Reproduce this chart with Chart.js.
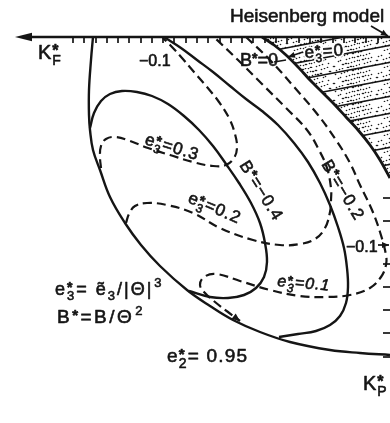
<!DOCTYPE html>
<html>
<head>
<meta charset="utf-8">
<script src="https://cdn.jsdelivr.net/npm/chart.js@4/dist/chart.umd.min.js"></script>
<style>
  html, body { margin: 0; background: #fff; }
  canvas { display: block; }
</style>
</head>
<body>
<canvas id="phase" width="390" height="423"></canvas>
<script>
const INK = '#151515';

// figure units: x to the right, y downward; K_F* axis along the top, K_P* down the right edge
const ORIGIN_X = 389, ORIGIN_Y = 37, ARROW_TIP_X = 15;

const KF_TICKS = [73, 84, 96, 107, 118, 129, 141, 152, 163, 174, 186, 197, 208, 220, 231, 242, 253, 265, 276, 287, 299, 310, 321, 333, 344, 355, 366, 378];
const KP_TICKS = [198, 221, 264, 287, 310, 333, 357];

// e2* = 0.95 outer boundary
const OUTER_X = [93, 91, 89, 89, 90, 93, 100, 110, 125, 141, 160, 187, 210, 233, 260, 290, 330, 360, 390];
const OUTER_Y = [37, 60, 90, 115, 130, 150, 170, 197, 223, 245, 266, 290, 306, 320, 332, 342, 350, 353, 355];

// B* = -0.4
const B04_X = [90, 94, 101, 110, 122, 137, 152, 168, 184, 199, 213, 226, 239, 251, 260, 265, 267, 264, 256, 244, 228, 210, 189];
const B04_Y = [128, 113, 101, 94, 91, 92, 96, 104, 116, 130, 146, 164, 183, 203, 223, 243, 262, 277, 288, 295, 298, 297, 291];

// B* = -0.2
const B02_X = [164, 181, 197, 213, 230, 246, 262, 278, 294, 308, 320, 330, 338, 344, 347, 348, 346, 340, 330, 316, 298, 279];
const B02_Y = [37, 48, 60, 72, 86, 99, 111, 125, 143, 162, 183, 205, 227, 248, 268, 287, 303, 316, 325, 331, 334, 337];

// B* = 0 / e3* = 0 edge of the hatched region
const EDGE_X = [262, 274, 286, 298, 310, 322, 334, 346, 358, 370, 380, 390];
const EDGE_Y = [37, 45, 55, 67, 80, 92, 104, 117, 130, 145, 160, 178];

// e3* = 0.3
const E03_X = [101, 100, 101, 106, 116, 130, 148, 170, 193, 213, 226, 234, 237, 235, 229, 219, 207, 194, 182, 172, 163];
const E03_Y = [168, 157, 146, 139, 137, 141, 148, 155, 162, 166, 165, 158, 148, 134, 118, 102, 87, 72, 58, 47, 38];

// e3* = 0.2
const E02_X = [126, 129, 135, 147, 167, 193, 220, 253, 280, 300, 315, 325, 330, 331, 331, 327, 319, 307, 286, 262, 238, 214];
const E02_Y = [223, 214, 206, 203, 205, 213, 228, 240, 245, 244, 239, 228, 212, 200, 188, 168, 150, 130, 108, 84, 60, 37];

// e3* = 0.1
const E01_X = [246, 270, 295, 318, 336, 350, 360, 372, 380, 386, 386, 381, 370, 350, 325, 300, 270, 240, 216, 204, 200, 205, 215, 228, 240];
const E01_Y = [37, 60, 88, 115, 140, 163, 185, 210, 232, 255, 265, 277, 288, 295, 297, 296, 290, 281, 274, 277, 285, 293, 302, 312, 321];

const LABELS = [
  { at: [230, 22], size: 19, gap: 0, parts: ['Heisenberg model'] },
  { at: [38, 59], size: 20, parts: ['K', { sup: '*', sub: 'F' }] },
  { at: [139, 66], size: 16, gap: 0, parts: ['−0.1'] },
  { at: [240, 66], size: 18, gap: 0, parts: ['B', { sup: '*' }, '=0'] },
  { at: [305, 58], size: 17, rot: -4, halo: true, parts: ['e', { sup: '*', sub: '3' }, '=0'] },
  { at: [144, 144], size: 17, rot: 17, parts: ['e', { sup: '*', sub: '3' }, '=0.3'] },
  { at: [239, 165], size: 17, rot: 58, parts: ['B', { sup: '*' }, '=−0.4'] },
  { at: [187, 202], size: 17, rot: 23, parts: ['e', { sup: '*', sub: '3' }, '=0.2'] },
  { at: [321, 164], size: 17, rot: 59, parts: ['B', { sup: '*' }, '=−0.2'] },
  { at: [277, 286], size: 16, rot: 5, italic: true, parts: ['e', { sup: '*', sub: '3' }, '=0.1'] },
  { at: [346, 252], size: 16, gap: 0, parts: ['−0.1'] },
  { at: [55, 295], size: 18, gap: 2, parts: ['e', { sup: '*', sub: '3' }, '= ẽ', { sub: '3' }, '/|Θ|', { sup: '3' }] },
  { at: [57, 323], size: 19, gap: 2.5, parts: ['B', { sup: '*' }, '=B/Θ', { sup: '2' }] },
  { at: [167, 362], size: 19, gap: 1.2, parts: ['e', { sup: '*', sub: '2' }, '= 0.95'] },
  { at: [363, 390], size: 20, parts: ['K', { sup: '*', sub: 'P' }] },
];

// leader arrows [from, to, with head]
const POINTERS = [
  [[371, 26], [388, 36], true],
  [[303, 52], [288, 57], true],
  [[274, 62], [286, 60], false],
  [[378, 245], [389, 245], true],
];

function hatchPattern() {
  const w = 90, h = 17;
  const c = document.createElement('canvas');
  c.width = w; c.height = h;
  const g = c.getContext('2d');
  g.fillStyle = '#fff';
  g.fillRect(0, 0, w, h);
  g.fillStyle = '#1e1e1e';
  // stipple
  for (let i = 0; i < 110; i++) {
    const dx = (i * 37 + (i % 11) * 5) % w, dy = (i * 53 + (i % 5)) % h;
    g.beginPath(); g.arc(dx + 0.5, dy + 0.5, 0.8, 0, Math.PI * 2); g.fill();
  }
  g.strokeStyle = INK;
  g.lineWidth = 1.6;
  for (const o of [-h, 0, h]) {
    g.beginPath(); g.moveTo(0, h + o); g.lineTo(w, o); g.stroke();
  }
  return document.createElement('canvas').getContext('2d').createPattern(c, 'repeat');
}

const curve = (xs, ys, dashed, extra = {}) => ({
  data: xs.map((v, i) => ({ x: v, y: ys[i] })),
  pointRadius: 0, borderColor: INK, borderWidth: dashed ? 2.2 : 2.4,
  borderDash: dashed ? [9, 5] : [], tension: 0.4, fill: false, order: 0, ...extra,
});

function seg(ctx, x1, y1, x2, y2) {
  ctx.beginPath(); ctx.moveTo(x1, y1); ctx.lineTo(x2, y2); ctx.stroke();
}
function head(ctx, x1, y1, x2, y2, len, half) {
  const a = Math.atan2(y2 - y1, x2 - x1);
  ctx.beginPath();
  ctx.moveTo(x2, y2);
  ctx.lineTo(x2 - len * Math.cos(a) + half * Math.sin(a), y2 - len * Math.sin(a) - half * Math.cos(a));
  ctx.lineTo(x2 - len * Math.cos(a) - half * Math.sin(a), y2 - len * Math.sin(a) + half * Math.cos(a));
  ctx.closePath(); ctx.fill();
}

function rich(ctx, lab, paint) {
  const s = lab.size, gap = lab.gap ?? 1;
  const font = (px, bold) => `${lab.italic ? 'italic ' : ''}${bold ? 'bold ' : ''}${px}px "Liberation Sans", Arial, sans-serif`;
  let x = 0;
  for (const p of lab.parts) {
    if (typeof p === 'string') {
      ctx.font = font(s); ctx.letterSpacing = gap + 'px';
      paint(p, x, 0); x += ctx.measureText(p).width;
      continue;
    }
    ctx.letterSpacing = '0px';
    let w = 0;
    if (p.sup === '*') {
      ctx.font = font(Math.round(s * 0.8), true);
      paint('*', x, -s * 0.14); w = ctx.measureText('*').width;
    } else if (p.sup) {
      ctx.font = font(Math.round(s * 0.7));
      paint(p.sup, x + 1, -s * 0.42); w = ctx.measureText(p.sup).width + 1;
    }
    if (p.sub) {
      ctx.font = font(Math.round(s * 0.72));
      paint(p.sub, x, s * 0.3); w = Math.max(w, ctx.measureText(p.sub).width);
    }
    x += w + gap;
  }
}

const figureMarks = {
  id: 'figureMarks',
  afterDatasetsDraw(chart) {
    const { ctx, scales: { x, y } } = chart;
    const X = v => x.getPixelForValue(v), Y = v => y.getPixelForValue(v);
    ctx.save();
    ctx.strokeStyle = INK; ctx.fillStyle = INK;

    // K_F* axis and its arrow
    ctx.lineWidth = 2.4;
    seg(ctx, X(ARROW_TIP_X + 8), Y(ORIGIN_Y), X(390), Y(ORIGIN_Y));
    head(ctx, X(ARROW_TIP_X + 10), Y(ORIGIN_Y), X(ARROW_TIP_X), Y(ORIGIN_Y), 17, 4.2);
    ctx.lineWidth = 1.7;
    KF_TICKS.forEach(t => seg(ctx, X(t), Y(ORIGIN_Y), X(t), Y(ORIGIN_Y) + 6));
    KP_TICKS.forEach(t => seg(ctx, X(ORIGIN_X) - 6, Y(t), X(ORIGIN_X) + 2, Y(t)));

    // leader arrows
    for (const [a, b, tip] of POINTERS) {
      seg(ctx, X(a[0]), Y(a[1]), X(b[0]), Y(b[1]));
      if (tip) head(ctx, X(a[0]), Y(a[1]), X(b[0]), Y(b[1]), 7, 3);
    }
    // e3* = 0.1 runs out in an arrow onto the boundary
    const n = E01_X.length;
    head(ctx, X(E01_X[n - 2]), Y(E01_Y[n - 2]), X(E01_X[n - 1]), Y(E01_Y[n - 1]), 8, 3.5);

    // labels, filled and lightly stroked so they read as heavy as the lines
    ctx.textBaseline = 'alphabetic';
    for (const lab of LABELS) {
      ctx.save();
      ctx.translate(X(lab.at[0]), Y(lab.at[1]));
      ctx.rotate((lab.rot || 0) * Math.PI / 180);
      ctx.lineJoin = 'round';
      if (lab.halo) {
        ctx.strokeStyle = '#fff'; ctx.lineWidth = 4;
        rich(ctx, lab, (t, tx, ty) => ctx.strokeText(t, tx, ty));
      }
      ctx.fillStyle = INK; ctx.strokeStyle = INK; ctx.lineWidth = 0.6;
      rich(ctx, lab, (t, tx, ty) => { ctx.fillText(t, tx, ty); ctx.strokeText(t, tx, ty); });
      ctx.restore();
    }
    ctx.restore();
  },
};

new Chart(document.getElementById('phase'), {
  type: 'line',
  data: {
    datasets: [
      curve(EDGE_X, EDGE_Y, false, { borderWidth: 2.8, tension: 0.3, order: 5,
        fill: { value: ORIGIN_Y }, backgroundColor: hatchPattern() }),
      curve(OUTER_X, OUTER_Y, false),
      curve(B04_X, B04_Y, false),
      curve(B02_X, B02_Y, false),
      curve(E03_X, E03_Y, true),
      curve(E02_X, E02_Y, true),
      curve(E01_X, E01_Y, true),
    ],
  },
  options: {
    responsive: false,
    animation: false,
    devicePixelRatio: 1,
    layout: { padding: 0 },
    plugins: { legend: { display: false }, tooltip: { enabled: false } },
    scales: {
      x: { type: 'linear', min: 0, max: 390, display: false },
      y: { type: 'linear', min: 0, max: 423, reverse: true, display: false },
    },
  },
  plugins: [figureMarks],
});
</script>
</body>
</html>
